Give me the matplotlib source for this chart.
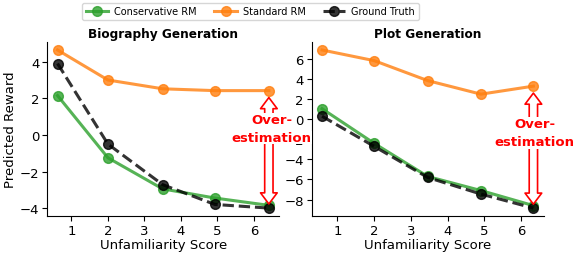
import matplotlib
matplotlib.use("Agg")
import matplotlib.pyplot as plt
from matplotlib.transforms import offset_copy

# unfamiliarity score buckets
bio_x = [0.62, 2.0, 3.5, 4.93, 6.41]
plot_x = [0.58, 2.0, 3.46, 4.91, 6.34]

# biography generation
bio_cons = [2.15, -1.25, -2.95, -3.45, -3.85]
bio_std = [4.64, 3.0, 2.52, 2.42, 2.42]
bio_gt = [3.9, -0.5, -2.72, -3.8, -4.0]

# plot generation
plot_cons = [1.05, -2.4, -5.7, -7.1, -8.6]
plot_std = [6.9, 5.84, 3.85, 2.5, 3.3]
plot_gt = [0.3, -2.7, -5.8, -7.45, -8.85]

titles = ["Biography Generation", "Plot Generation"]
fs = 9.5

fig, axes = plt.subplots(1, 2, figsize=(5.75, 2.55), dpi=100)
fig.subplots_adjust(left=0.0817, right=0.946, bottom=0.149, top=0.831, wspace=0.138)

panels = [
    (bio_x, bio_cons, bio_std, bio_gt, (6.49, 0.35), [-4, -2, 0, 2, 4]),
    (plot_x, plot_cons, plot_std, plot_gt, (6.38, -1.33), [-8, -6, -4, -2, 0, 2, 4, 6]),
]

for ax, title, (x, cons, std, gt, txt_pos, yt) in zip(axes, titles, panels):
    ax.plot(x, cons, '-o', color='#2ca02c', lw=2.2, ms=7, alpha=0.8, label='Conservative RM')
    ax.plot(x, std, '-o', color='#ff7f0e', lw=2.2, ms=7, alpha=0.8, label='Standard RM')
    ax.plot(x, gt, '--o', color='black', lw=2.2, ms=7, alpha=0.8, label='Ground Truth')
    ax.set_title(title, fontsize=8.7, fontweight='bold', pad=3.5)
    ax.set_xlabel('Unfamiliarity Score', fontsize=fs, labelpad=1)
    ax.set_xticks([1, 2, 3, 4, 5, 6])
    ax.set_yticks(yt)
    ax.tick_params(labelsize=fs, pad=2)
    ax.spines['top'].set_visible(False)
    ax.spines['right'].set_visible(False)

    # over-estimation arrows, starting from the two text lines
    xa = x[-1]
    arrow = dict(arrowstyle='simple,head_width=0.6,head_length=0.4,tail_width=0.3',
                 fc='white', ec='red', lw=1.2, mutation_scale=20, shrinkA=0)
    up = offset_copy(ax.transData, fig=fig, y=6.5, units='points')
    down = offset_copy(ax.transData, fig=fig, y=-6.5, units='points')
    ax.annotate('', xy=(xa, std[-1]), xytext=(xa, txt_pos[1]), textcoords=up,
                arrowprops=dict(arrow, shrinkB=5), annotation_clip=False, zorder=4)
    ax.annotate('', xy=(xa, cons[-1]), xytext=(xa, txt_pos[1]), textcoords=down,
                arrowprops=dict(arrow, shrinkB=1), annotation_clip=False, zorder=4)
    for line, dy in (('Over-', 6.5), ('estimation', -6.5)):
        ax.annotate(line, xy=txt_pos, xytext=(0, dy), textcoords='offset points',
                    color='red', fontsize=9.5, fontweight='bold', ha='center', va='center',
                    zorder=6, bbox=dict(fc='white', ec='none', pad=0.3),
                    annotation_clip=False)

axes[0].set_ylabel('Predicted Reward', fontsize=fs, labelpad=2)
axes[0].set_zorder(axes[1].get_zorder() + 1)

handles, labels = axes[0].get_legend_handles_labels()
fig.legend(handles, labels, loc='upper center', bbox_to_anchor=(0.4357, 1.005), ncol=3,
           fontsize=7, frameon=True, handlelength=2.3, columnspacing=1.8,
           borderpad=0.4, handletextpad=0.6)

fig.savefig('out.png', dpi=100)
